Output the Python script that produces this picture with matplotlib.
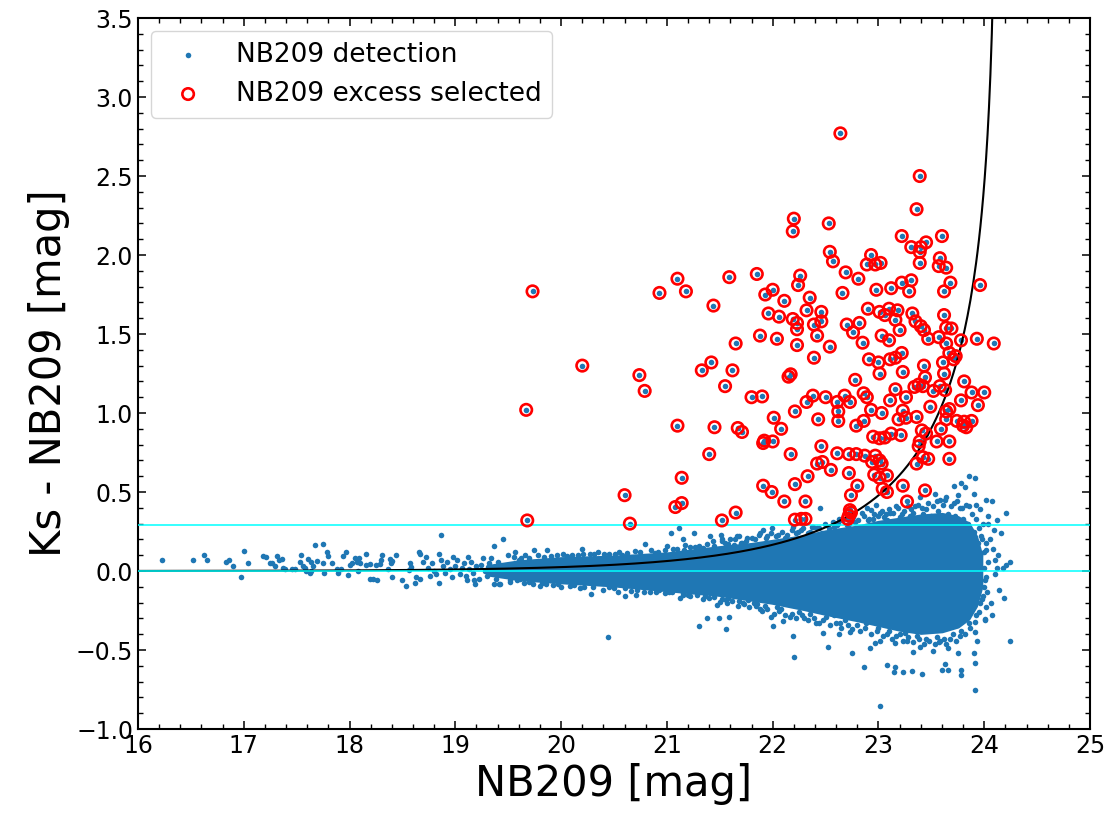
import numpy as np
import matplotlib
matplotlib.use('Agg')
import matplotlib.pyplot as plt
from matplotlib.ticker import MultipleLocator

# NB209 excess candidates (NB209 mag, Ks - NB209 colour)
sel_mag = [19.73, 21.10, 20.93, 21.18, 21.44, 20.20, 21.42, 21.33, 20.74, 20.79,
           19.67, 21.10, 21.45, 21.40, 21.14, 20.60, 21.14, 21.08, 19.68, 20.65,
           22.64, 22.20, 22.19, 22.53, 22.54, 22.57, 21.59, 21.85, 22.26, 22.24,
           22.69, 22.81, 22.00, 21.93, 22.11, 22.35, 22.66, 22.32, 21.96, 22.46,
           22.06, 22.19, 22.23, 22.39, 22.46, 22.70, 22.82, 22.23, 22.76, 21.88,
           22.04, 22.42, 22.23, 22.54, 21.65, 22.39, 21.62, 22.15, 22.17, 21.55,
           22.78, 21.80, 21.90, 22.32, 22.38, 22.50, 22.61, 22.68, 22.73, 22.62,
           22.62, 22.21, 22.01, 22.43, 21.67, 21.71, 22.08, 22.79, 21.92, 21.91,
           22.00, 22.17, 22.46, 22.61, 22.72, 22.79, 22.42, 22.47, 22.55, 22.72,
           22.33, 21.91, 21.99, 22.21, 22.80, 22.11, 22.31, 22.74, 21.65, 21.52,
           22.21, 22.27, 22.31, 22.73, 22.74, 22.72, 22.71,
           23.39, 23.36, 23.22, 23.60, 23.31, 23.40, 23.45, 23.39, 22.93, 22.89,
           22.97, 23.02, 23.58, 23.57, 23.64, 23.39, 23.22, 23.31, 22.98, 23.12,
           23.29, 23.68, 23.62, 23.96, 22.90, 23.01, 23.06, 23.10, 23.18, 23.16,
           23.32, 23.35, 23.62, 23.40, 23.20, 23.64, 23.69,
           22.85, 23.03, 23.10, 23.43, 23.47, 23.57, 23.64, 23.78, 23.93, 24.09,
           22.91, 23.00, 23.11, 23.16, 23.22, 23.43, 23.61, 23.67, 23.73, 23.71,
           23.01, 23.23, 23.44, 23.62, 23.16, 23.34, 23.38, 23.42, 23.52, 23.58,
           23.63, 23.81, 23.88, 24.00, 22.86, 22.89, 23.11, 23.26, 23.49, 23.67,
           23.64, 23.78, 23.94, 22.93, 23.03, 23.23, 23.19, 23.26, 23.36, 23.64,
           23.74, 23.81, 23.83, 23.88, 23.80, 22.86, 23.41, 23.45, 23.59, 22.95,
           23.01, 23.06, 23.12, 23.21, 23.39, 23.38, 23.55, 23.67, 22.87, 22.97,
           22.94, 23.01, 23.03, 23.36, 23.42, 23.47, 23.67, 22.96, 23.01, 23.08,
           23.04, 23.08, 23.23, 23.44, 23.27]
sel_col = [1.77, 1.85, 1.76, 1.77, 1.68, 1.30, 1.32, 1.27, 1.24, 1.14,
           1.02, 0.92, 0.91, 0.74, 0.59, 0.48, 0.43, 0.405, 0.32, 0.30,
           2.77, 2.23, 2.15, 2.20, 2.02, 1.96, 1.86, 1.88, 1.87, 1.81,
           1.89, 1.85, 1.78, 1.75, 1.71, 1.73, 1.76, 1.65, 1.63, 1.64,
           1.61, 1.595, 1.57, 1.56, 1.58, 1.56, 1.57, 1.53, 1.51, 1.49,
           1.47, 1.49, 1.43, 1.42, 1.44, 1.35, 1.27, 1.23, 1.245, 1.17,
           1.21, 1.10, 1.105, 1.07, 1.11, 1.10, 1.07, 1.11, 1.07, 1.01,
           0.95, 1.01, 0.97, 0.96, 0.905, 0.88, 0.90, 0.92, 0.825, 0.81,
           0.82, 0.74, 0.79, 0.745, 0.74, 0.74, 0.68, 0.69, 0.64, 0.62,
           0.60, 0.54, 0.50, 0.55, 0.54, 0.44, 0.44, 0.48, 0.37, 0.32,
           0.325, 0.33, 0.33, 0.385, 0.37, 0.35, 0.33,
           2.50, 2.29, 2.12, 2.12, 2.05, 2.05, 2.08, 2.02, 2.00, 1.94,
           1.94, 1.95, 1.98, 1.93, 1.92, 1.95, 1.825, 1.84, 1.78, 1.79,
           1.77, 1.825, 1.77, 1.81, 1.66, 1.64, 1.62, 1.66, 1.65, 1.59,
           1.63, 1.58, 1.62, 1.55, 1.525, 1.54, 1.535,
           1.445, 1.49, 1.46, 1.525, 1.47, 1.48, 1.44, 1.46, 1.47, 1.44,
           1.34, 1.32, 1.34, 1.35, 1.38, 1.30, 1.32, 1.38, 1.36, 1.34,
           1.25, 1.26, 1.225, 1.25, 1.15, 1.165, 1.18, 1.17, 1.14, 1.17,
           1.145, 1.20, 1.13, 1.13, 1.125, 1.10, 1.08, 1.10, 1.04, 1.025,
           1.01, 1.08, 1.05, 1.02, 1.00, 1.015, 0.96, 0.97, 0.975, 0.96,
           0.95, 0.945, 0.91, 0.95, 0.92, 0.95, 0.89, 0.87, 0.90, 0.85,
           0.84, 0.845, 0.87, 0.86, 0.82, 0.79, 0.82, 0.82, 0.73, 0.73,
           0.69, 0.70, 0.68, 0.68, 0.72, 0.71, 0.71, 0.61, 0.59, 0.605,
           0.52, 0.50, 0.54, 0.51, 0.44]

# individual detections outside the crowded locus
det_mag = [16.23, 16.52, 16.62, 16.65, 16.83, 16.86, 16.90, 16.97, 17.00, 17.04,
           17.18, 17.21, 17.25, 17.27, 17.30, 17.31, 17.33, 17.36, 17.37, 17.39,
           17.46, 17.48, 17.53, 17.54, 17.56, 17.58, 17.59, 17.63, 17.64, 17.61,
           17.64, 17.67, 17.75, 17.65, 17.69, 17.75, 17.79, 17.80, 17.83, 17.76,
           17.88, 17.89, 17.92, 17.94, 17.97, 17.99, 18.00, 18.02, 18.05, 18.07,
           18.09, 18.10, 18.08, 18.16, 18.16, 18.19, 18.19, 18.22, 18.26, 18.25,
           18.29, 18.31, 18.30, 18.36, 18.38, 18.39, 18.40, 18.44, 18.50, 18.53,
           18.56, 18.57, 18.58, 18.62, 18.63, 18.66, 18.67, 18.72, 18.69, 18.86,
           18.85, 18.85, 19.37, 19.45, 18.40, 18.67, 19.11, 19.19, 19.37, 19.41,
           19.74, 19.50, 19.56, 19.66,
           18.74, 18.76, 18.78, 18.80, 18.82, 18.88, 18.90, 18.92, 18.95, 18.97,
           19.00, 19.02, 19.04, 19.06, 19.08, 19.10, 19.13, 19.15, 19.17, 19.20,
           19.22, 19.24, 19.26, 19.28, 19.30, 19.32, 19.35, 19.38, 19.40, 19.43,
           19.46, 18.98, 19.12, 18.86, 19.18, 19.34,
           19.87, 20.20, 20.21, 20.79, 21.04, 21.11, 21.26, 21.00, 21.15, 21.17,
           21.41, 21.44, 21.51, 21.52, 21.60, 21.63, 21.66, 21.68, 21.71, 21.75,
           19.42, 19.52, 19.61, 19.73, 19.80, 19.86, 20.00, 20.18, 20.28, 20.54,
           20.60, 20.71, 20.78, 20.93, 21.12, 21.15, 21.22, 21.34, 21.47, 21.50,
           21.56, 21.63, 21.72, 21.77, 20.44, 21.30, 21.38, 21.49, 21.59, 21.56,
           22.45, 22.55, 22.47, 22.37, 22.27, 22.19, 21.91, 21.99, 21.88, 22.63,
           22.62, 22.84, 22.89, 22.93, 22.98, 23.01, 22.90, 23.08, 23.11, 23.17,
           23.20, 23.27, 23.35, 23.39, 23.45, 23.33, 23.53, 23.58, 23.64, 23.71,
           23.75, 23.71, 23.78, 23.82, 23.86, 23.91, 23.90, 23.77, 23.86, 23.92,
           23.96, 24.02, 24.07, 24.12, 24.04, 24.09, 24.21, 23.97, 24.02, 24.10,
           24.12, 24.21, 24.24, 24.02, 23.96, 24.19, 24.24, 24.01, 24.02, 23.99,
           24.01, 23.90, 23.91, 23.91, 23.75, 23.78, 23.78, 23.66, 23.60, 23.63,
           23.41, 23.32, 23.23, 23.15, 23.16, 23.08, 23.01, 22.86, 22.75, 22.52,
           22.20, 22.19, 22.00, 21.98, 22.10, 22.48, 22.63, 22.64, 22.73, 22.92,
           22.97, 23.01, 23.16, 23.27, 23.33, 23.39, 23.52, 23.58, 23.66, 23.91,
           23.93, 24.01, 21.82, 21.88, 22.04, 22.16, 22.30, 22.41,
           19.55, 19.62, 19.78, 19.90, 20.02, 20.10, 20.27, 20.35, 20.45, 20.55,
           20.62, 20.70, 20.85, 20.92, 21.06, 21.22, 21.30, 21.38, 21.55, 21.80,
           21.95, 22.05, 22.12, 22.22, 22.35, 22.42, 22.58, 22.70, 22.78, 22.95,
           23.05, 23.12, 23.22, 23.30, 23.42, 23.50, 23.56, 23.66, 23.72, 23.80,
           23.85, 23.90, 23.94,
           19.52, 19.65, 19.92, 20.08, 20.22, 20.40, 20.50, 20.66, 20.84, 20.98,
           21.05, 21.20, 21.40, 21.58, 21.68, 21.85, 21.93, 22.08, 22.25, 22.35,
           22.50, 22.58, 22.68, 22.80, 22.88, 23.00, 23.10, 23.20, 23.25, 23.36,
           23.45, 23.55, 23.62, 23.70, 23.78, 23.86, 23.92, 23.96]
det_col = [0.07, 0.07, 0.10, 0.07, 0.06, 0.07, 0.03, -0.04, 0.125, 0.05,
           0.095, 0.09, 0.05, 0.05, 0.03, 0.095, 0.07, 0.075, 0.02, 0.015,
           0.01, 0.015, 0.06, 0.10, 0.03, 0.02, 0.0, -0.01, 0.0, 0.075,
           0.055, 0.165, 0.17, 0.03, 0.065, 0.05, 0.12, 0.095, 0.05, -0.01,
           0.015, -0.015, 0.015, 0.095, 0.12, -0.025, 0.035, 0.05, 0.085, 0.06,
           0.08, 0.05, 0.0, 0.105, 0.04, 0.045, -0.05, -0.05, -0.06, 0.04,
           0.045, 0.10, 0.07, 0.015, 0.075, 0.05, -0.035, 0.10, -0.055, -0.095,
           0.005, 0.05, 0.025, -0.075, -0.035, 0.12, 0.105, 0.09, 0.06, 0.23,
           0.105, -0.075, 0.16, 0.205, 0.065, -0.05, -0.06, -0.08, -0.08, -0.08,
           0.13, 0.10, 0.12, 0.10,
           0.02, -0.03, 0.05, 0.00, -0.02, 0.03, -0.01, 0.06, 0.01, -0.04,
           0.03, 0.07, -0.02, 0.02, 0.05, -0.03, 0.01, 0.06, -0.01, 0.03,
           -0.05, 0.04, 0.08, 0.00, -0.03, 0.05, 0.02, -0.05, 0.06, 0.00,
           0.03, 0.09, 0.09, 0.07, -0.06, 0.08,
           0.13, 0.14, 0.11, 0.17, 0.24, 0.275, 0.24, 0.16, 0.20, 0.165,
           0.22, 0.19, 0.225, 0.20, 0.20, 0.165, 0.22, 0.22, 0.175, 0.19,
           -0.08, -0.06, -0.05, -0.08, -0.095, -0.08, -0.10, -0.11, -0.145, -0.13,
           -0.155, -0.15, -0.13, -0.12, -0.17, -0.15, -0.16, -0.175, -0.215, -0.195,
           -0.185, -0.16, -0.20, -0.185, -0.42, -0.35, -0.30, -0.295, -0.29, -0.37,
           0.40, 0.225, 0.24, 0.28, 0.26, 0.28, 0.26, 0.27, 0.24, 0.33,
           0.305, 0.37, 0.40, 0.385, 0.42, 0.365, 0.32, 0.32, 0.365, 0.41,
           0.34, 0.33, 0.41, 0.47, 0.39, 0.365, 0.49, 0.45, 0.47, 0.43,
           0.48, 0.54, 0.555, 0.53, 0.60, 0.59, 0.49, 0.40, 0.41, 0.42,
           0.39, 0.45, 0.44, 0.32, 0.30, 0.26, 0.365, 0.22, 0.175, 0.07,
           0.02, 0.04, 0.06, 0.13, 0.10, -0.17, -0.44, -0.31, -0.225, -0.16,
           -0.06, -0.52, -0.585, -0.755, -0.52, -0.66, -0.625, -0.625, -0.625, -0.59,
           -0.65, -0.63, -0.64, -0.64, -0.61, -0.595, -0.855, -0.605, -0.52, -0.48,
           -0.545, -0.41, -0.35, -0.29, -0.315, -0.39, -0.40, -0.33, -0.385, -0.485,
           -0.455, -0.44, -0.455, -0.44, -0.51, -0.48, -0.505, -0.44, -0.49, -0.385,
           -0.44, -0.305, -0.20, -0.24, -0.225, -0.29, -0.30, -0.33,
           0.09, 0.085, 0.10, 0.095, 0.11, 0.10, 0.105, 0.12, 0.11, 0.12,
           0.115, 0.125, 0.13, 0.12, 0.14, 0.15, 0.16, 0.17, 0.18, 0.21,
           0.22, 0.23, 0.21, 0.24, 0.25, 0.27, 0.28, 0.29, 0.31, 0.33,
           0.34, 0.31, 0.36, 0.35, 0.36, 0.35, 0.38, 0.36, 0.35, 0.33,
           0.30, 0.25, 0.18,
           -0.07, -0.075, -0.09, -0.095, -0.10, -0.12, -0.11, -0.125, -0.13, -0.14,
           -0.13, -0.15, -0.17, -0.17, -0.19, -0.21, -0.22, -0.24, -0.26, -0.27,
           -0.29, -0.28, -0.31, -0.34, -0.33, -0.36, -0.38, -0.40, -0.39, -0.41,
           -0.43, -0.42, -0.43, -0.40, -0.38, -0.33, -0.28, -0.20]

# detections packed along the edge of the crowded locus
edge_mag = [21.52, 21.58, 21.64, 21.70, 21.76, 21.83, 21.87, 21.94, 21.98, 22.03,
            22.09, 22.14, 22.18, 22.24, 22.29, 22.33, 22.38, 22.44, 22.49, 22.53,
            22.57, 22.61, 22.66, 22.72, 22.76, 22.81, 22.86, 22.91, 22.96, 23.00,
            23.03, 23.07, 23.10, 23.14, 23.18, 23.24, 23.28, 23.31, 23.37, 23.41,
            23.47, 23.52, 23.55, 23.61, 23.63, 23.69, 23.74, 23.79, 23.83, 23.88,
            23.92, 23.95, 23.98, 24.00,
            21.52, 21.57, 21.62, 21.67, 21.73, 21.78, 21.84, 21.90, 21.95, 22.01,
            22.06, 22.12, 22.18, 22.22, 22.28, 22.33, 22.39, 22.44, 22.48, 22.54,
            22.60, 22.65, 22.71, 22.75, 22.83, 22.87, 22.93, 22.99, 23.04, 23.08,
            23.13, 23.17, 23.23, 23.28, 23.33, 23.38, 23.43, 23.48, 23.53, 23.57,
            23.64, 23.68, 23.73, 23.77, 23.82, 23.87, 23.91, 23.95, 23.98, 24.00,
            24.00, 24.02, 24.04, 24.03, 24.05, 24.06, 24.08, 24.07, 24.10, 24.13,
            24.14, 24.16, 24.18, 23.99, 24.04,
            19.60, 19.70, 19.84, 19.96, 20.06, 20.16, 20.31, 20.41, 20.51, 20.58,
            20.75, 20.89, 20.98, 21.10, 21.16, 21.27, 21.34, 21.45,
            19.58, 19.70, 19.82, 19.97, 20.12, 20.30, 20.45, 20.60, 20.72, 20.90,
            21.02, 21.15, 21.28, 21.36, 21.45]
edge_col = [0.19, 0.17, 0.20, 0.18, 0.21, 0.20, 0.23, 0.21, 0.24, 0.22,
            0.25, 0.23, 0.26, 0.25, 0.27, 0.24, 0.28, 0.27, 0.30, 0.27,
            0.31, 0.29, 0.32, 0.30, 0.34, 0.32, 0.35, 0.33, 0.36, 0.35,
            0.38, 0.36, 0.39, 0.37, 0.40, 0.38, 0.41, 0.39, 0.42, 0.40,
            0.43, 0.41, 0.44, 0.42, 0.45, 0.41, 0.44, 0.40, 0.42, 0.36,
            0.33, 0.27, 0.20, 0.12,
            -0.18, -0.20, -0.19, -0.22, -0.21, -0.23, -0.22, -0.25, -0.24, -0.27,
            -0.25, -0.28, -0.27, -0.30, -0.28, -0.31, -0.30, -0.33, -0.31, -0.34,
            -0.33, -0.36, -0.34, -0.37, -0.38, -0.36, -0.40, -0.38, -0.41, -0.40,
            -0.43, -0.41, -0.44, -0.42, -0.45, -0.43, -0.46, -0.44, -0.46, -0.45,
            -0.46, -0.43, -0.44, -0.41, -0.40, -0.36, -0.32, -0.26, -0.18, -0.10,
            0.02, -0.04, 0.06, -0.13, 0.20, -0.20, 0.14, -0.28, -0.02, 0.10,
            -0.12, 0.24, 0.02, 0.30, 0.35,
            0.07, 0.08, 0.09, 0.10, 0.095, 0.10, 0.11, 0.105, 0.11, 0.10,
            0.12, 0.115, 0.13, 0.14, 0.13, 0.15, 0.145, 0.16,
            -0.06, -0.07, -0.075, -0.085, -0.09, -0.10, -0.10, -0.11, -0.12, -0.13,
            -0.135, -0.14, -0.15, -0.16, -0.165]

# outline of the crowded locus where the detections merge
core_mag = [19.3, 19.6, 20.0, 20.5, 21.0, 21.5, 21.8, 22.0, 22.3, 22.5,
            22.8, 23.0, 23.2, 23.4, 23.6, 23.75, 23.85, 23.92, 23.97]
core_hi = [0.03, 0.06, 0.08, 0.09, 0.11, 0.15, 0.17, 0.19, 0.22, 0.25,
           0.28, 0.31, 0.33, 0.35, 0.36, 0.34, 0.30, 0.22, 0.10]
core_lo = [-0.02, -0.05, -0.07, -0.09, -0.12, -0.15, -0.18, -0.20, -0.24, -0.27,
           -0.31, -0.34, -0.37, -0.39, -0.38, -0.35, -0.30, -0.22, -0.10]

# selection thresholds
mag_limit = 24.12   # magnitude where the Sigma curve diverges
color_cut = 0.29

blue = '#1f77b4'

fig = plt.figure(figsize=(11.09, 8.15), dpi=100)
ax = fig.add_axes([0.1244, 0.1055, 0.8585, 0.8724])

ax.fill_between(core_mag, core_lo, core_hi, color=blue, lw=2.5, zorder=2)
ax.scatter(det_mag + edge_mag + sel_mag, det_col + edge_col + sel_col, s=16,
           color=blue, lw=0, zorder=2, label='NB209 detection')

m = np.linspace(16, mag_limit - 0.035, 600)
ax.plot(m, -2.5 * np.log10(1 - 10 ** (0.4 * (m - mag_limit))), color='k', lw=1.5, zorder=3)
ax.axhline(0.0, color='cyan', lw=1.1, zorder=4)
ax.axhline(color_cut, color='cyan', lw=1.1, zorder=4)

ax.scatter(sel_mag, sel_col, s=68, facecolors='none', edgecolors='red', linewidths=1.9,
           zorder=5, label='NB209 excess selected')

ax.set_xlim(16, 25)
ax.set_ylim(-1.0, 3.5)
ax.xaxis.set_major_locator(MultipleLocator(1))
ax.xaxis.set_minor_locator(MultipleLocator(0.2))
ax.yaxis.set_major_locator(MultipleLocator(0.5))
ax.yaxis.set_minor_locator(MultipleLocator(0.1))
ax.tick_params(which='both', direction='in', top=True, right=True, labelsize=17)
ax.tick_params(which='major', length=6, width=1.1)
ax.tick_params(which='minor', length=3.5, width=1.0)
for sp in ax.spines.values():
    sp.set_linewidth(1.5)

ax.set_xlabel('NB209 [mag]', fontsize=30)
ax.set_ylabel('Ks - NB209 [mag]', fontsize=30)
ax.legend(loc='upper left', fontsize=19)

fig.savefig('out.png', dpi=100)
